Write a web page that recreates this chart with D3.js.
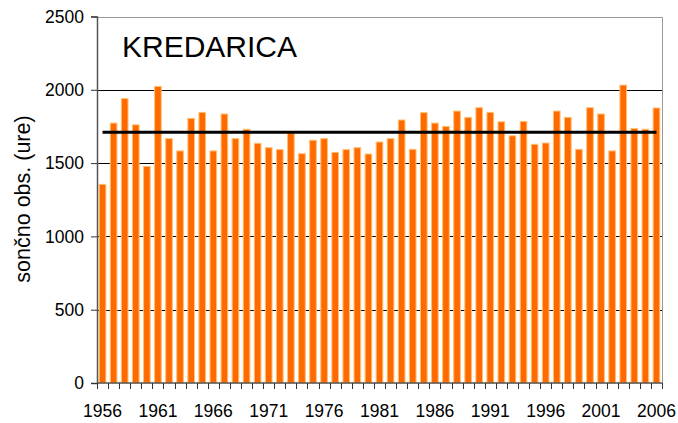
<!DOCTYPE html>
<html>
<head>
<meta charset="utf-8">
<script src="https://cdn.jsdelivr.net/npm/d3@7"></script>
<style>
  body { margin: 0; background: #fff; }
  svg { display: block; font-family: "Liberation Sans", Arial, sans-serif; }
</style>
</head>
<body>
<svg id="chart" width="678" height="423"></svg>
<script>
// yearly sunshine hours at Kredarica
const years = d3.range(1956, 2007);
const hours = [
  1355, 1773, 1940, 1761, 1477, 2023, 1667, 1583, 1805, 1846,
  1583, 1835, 1667, 1731, 1635, 1605, 1592, 1705, 1564, 1656,
  1667, 1573, 1592, 1605, 1562, 1644, 1667, 1794, 1594, 1844,
  1773, 1750, 1855, 1812, 1878, 1846, 1782, 1686, 1784, 1628,
  1637, 1855, 1812, 1594, 1878, 1835, 1583, 2032, 1736, 1731,
  1876
];
const average = 1710;
const yTicks = [0, 500, 1000, 1500, 2000, 2500];
const xLabels = [1956, 1961, 1966, 1971, 1976, 1981, 1986, 1991, 1996, 2001, 2006];

const margin = { top: 16.5, right: 16, bottom: 40, left: 97 };
const width = 678, height = 423;

const svg = d3.select('#chart');

const x = d3.scaleBand()
  .domain(years)
  .range([margin.left, width - margin.right])
  .paddingInner(0.4)
  .paddingOuter(0.2);

const y = d3.scaleLinear()
  .domain([0, 2500])
  .range([height - margin.bottom, margin.top]);

// gridlines
svg.append('g')
  .selectAll('line')
  .data(yTicks.filter(d => d > 0 && d < 2500))
  .join('line')
  .attr('x1', margin.left)
  .attr('x2', width - margin.right)
  .attr('y1', d => Math.round(y(d)) + 0.5)
  .attr('y2', d => Math.round(y(d)) + 0.5)
  .attr('stroke', '#000')
  .attr('stroke-width', 1);

// frame top/right
svg.append('path')
  .attr('d', `M${margin.left},${Math.round(y(2500)) + 0.5}H${width - margin.right + 0.5}V${y(0)}`)
  .attr('fill', 'none')
  .attr('stroke', '#999')
  .attr('stroke-width', 1);

// bars
svg.append('g')
  .selectAll('rect')
  .data(years)
  .join('rect')
  .attr('x', (d, i) => x(d))
  .attr('width', x.bandwidth())
  .attr('y', (d, i) => y(hours[i]))
  .attr('height', (d, i) => y(0) - y(hours[i]))
  .attr('fill', '#ff6a00')
  .attr('stroke', '#ffc070')
  .attr('stroke-width', 1);

// average line from first to last category centre
const line = d3.line()
  .x(d => x(d) + x.bandwidth() / 2)
  .y(() => y(average));

svg.append('path')
  .datum(years)
  .attr('d', line)
  .attr('fill', 'none')
  .attr('stroke', '#000')
  .attr('stroke-width', 3);

// y axis
const yAxis = d3.axisLeft(y)
  .tickValues(yTicks)
  .tickFormat(d3.format('d'))
  .tickSize(6)
  .tickPadding(7);

const gy = svg.append('g')
  .attr('transform', `translate(${margin.left},0)`)
  .call(yAxis);
gy.select('.domain').attr('stroke', '#555').attr('stroke-width', 1.5);
gy.selectAll('.tick line').attr('stroke', '#333');
gy.selectAll('.tick text')
  .attr('font-size', 17.5)
  .attr('fill', '#000')
  .attr('font-family', '"Liberation Sans", Arial, sans-serif');

// x axis baseline and ticks at category boundaries
const step = x.step();
const x0 = margin.left;
svg.append('line')
  .attr('x1', margin.left)
  .attr('x2', width - margin.right)
  .attr('y1', y(0))
  .attr('y2', y(0))
  .attr('stroke', '#555')
  .attr('stroke-width', 1.5);

svg.append('g')
  .selectAll('line')
  .data(d3.range(years.length + 1))
  .join('line')
  .attr('x1', i => Math.round(x0 + i * step) + 0.5)
  .attr('x2', i => Math.round(x0 + i * step) + 0.5)
  .attr('y1', y(0))
  .attr('y2', y(0) + 6)
  .attr('stroke', '#333');

svg.append('g')
  .selectAll('text')
  .data(xLabels)
  .join('text')
  .attr('x', d => x(d) + x.bandwidth() / 2)
  .attr('y', 417)
  .attr('text-anchor', 'middle')
  .attr('font-size', 17.5)
  .text(d => d);

// axis title
svg.append('text')
  .attr('transform', 'translate(30,199) rotate(-90)')
  .attr('text-anchor', 'middle')
  .attr('font-size', 21.5)
  .text('sončno obs. (ure)');

// station name
svg.append('text')
  .attr('x', 122)
  .attr('y', 57)
  .attr('font-size', 30)
  .text('KREDARICA');
</script>
</body>
</html>
